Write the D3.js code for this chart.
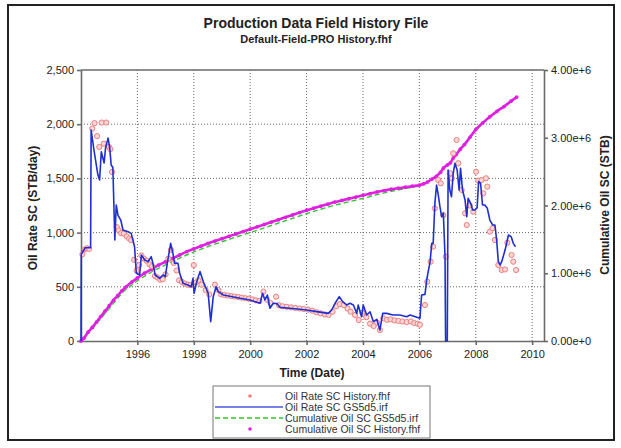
<!DOCTYPE html>
<html><head><meta charset="utf-8">
<script src="https://cdn.jsdelivr.net/npm/d3@7"></script>
<style>
body{margin:0;background:#fff;}
svg{display:block;font-family:"Liberation Sans",Arial,sans-serif;}
</style></head>
<body><svg id="c" width="621" height="448"></svg>
<script>
// ---- data ----
const xTickYears = [1996, 1998, 2000, 2002, 2004, 2006, 2008, 2010];
const rateTicks = [0, 500, 1000, 1500, 2000, 2500];
const cumTicks = [0, 1e6, 2e6, 3e6, 4e6];
const legendLabels = ["Oil Rate SC History.fhf", "Oil Rate SC GS5d5.irf", "Cumulative Oil SC GS5d5.irf", "Cumulative Oil SC History.fhf"];

// simulated oil rate (GS5d5.irf): [decimal year, STB/day]
const simRate = [[1994.00,0],[1994.01,800],[1994.15,860],[1994.34,860],[1994.36,1946],[1994.46,1762],[1994.60,1531],[1994.66,1485],[1994.72,1746],[1994.82,1642],[1994.87,1780],[1994.96,1872],[1995.02,1780],[1995.07,1623],[1995.13,1600],[1995.20,932],[1995.25,1255],[1995.31,1162],[1995.41,1116],[1995.49,1024],[1995.67,1008],[1995.78,993],[1995.90,870],[1995.96,627],[1996.08,609],[1996.14,793],[1996.26,747],[1996.38,732],[1996.49,778],[1996.55,717],[1996.63,609],[1996.79,578],[1996.91,609],[1996.99,593],[1997.06,717],[1997.18,901],[1997.26,809],[1997.32,717],[1997.44,717],[1997.50,625],[1997.62,532],[1997.79,517],[1997.91,501],[1997.97,578],[1998.01,440],[1998.09,532],[1998.22,640],[1998.34,547],[1998.51,440],[1998.60,178],[1998.69,409],[1998.79,501],[1998.87,455],[1999.05,424],[1999.64,394],[1999.99,378],[2000.35,348],[2000.44,440],[2000.52,380],[2000.61,424],[2000.70,302],[2000.82,348],[2000.95,345],[2001.06,310],[2001.41,302],[2002.00,286],[2002.36,271],[2002.77,255],[2002.89,286],[2003.01,348],[2003.16,409],[2003.28,363],[2003.42,332],[2003.54,348],[2003.66,332],[2003.78,255],[2003.83,332],[2003.95,224],[2004.01,332],[2004.13,240],[2004.25,270],[2004.37,178],[2004.49,200],[2004.60,101],[2004.70,255],[2004.84,255],[2005.07,240],[2005.31,240],[2005.55,224],[2005.67,240],[2006.02,209],[2006.08,424],[2006.20,430],[2006.26,563],[2006.38,732],[2006.44,901],[2006.49,901],[2006.55,1270],[2006.61,1439],[2006.67,1347],[2006.73,1239],[2006.79,1147],[2006.85,1180],[2006.91,778],[2006.93,0],[2006.99,0],[2007.02,1577],[2007.08,1393],[2007.14,1331],[2007.20,1547],[2007.26,1639],[2007.34,1577],[2007.41,1393],[2007.46,1593],[2007.53,1393],[2007.62,1301],[2007.68,1147],[2007.73,1316],[2007.82,1270],[2007.89,1208],[2007.97,1208],[2008.05,1230],[2008.10,1470],[2008.17,1455],[2008.24,1255],[2008.32,1255],[2008.41,1224],[2008.50,1116],[2008.60,1070],[2008.68,1070],[2008.74,932],[2008.80,732],[2008.86,701],[2008.92,732],[2009.04,839],[2009.16,978],[2009.26,960],[2009.33,901],[2009.41,870]];

// historical oil rate (History.fhf)
const histRate = [[1994.05,800],[1994.13,845],[1994.21,855],[1994.29,850],[1994.40,1960],[1994.48,2010],[1994.57,1890],[1994.65,1790],[1994.73,2015],[1994.81,1820],[1994.90,2015],[1994.99,1790],[1995.04,1770],[1995.10,1560],[1995.27,1050],[1995.34,1020],[1995.42,995],[1995.52,990],[1995.62,965],[1995.71,945],[1995.78,930],[1995.88,750],[1995.97,650],[1996.06,700],[1996.14,790],[1996.23,760],[1996.33,740],[1996.43,705],[1996.52,690],[1996.62,600],[1996.72,585],[1996.81,565],[1996.90,570],[1997.00,615],[1997.10,760],[1997.19,840],[1997.29,720],[1997.39,650],[1997.48,560],[1997.58,545],[1997.68,530],[1997.78,520],[1997.88,515],[1998.00,700],[1998.08,540],[1998.17,560],[1998.27,520],[1998.42,470],[1998.55,430],[1998.75,520],[1998.87,470],[1998.97,430],[1999.08,425],[1999.20,420],[1999.33,415],[1999.45,410],[1999.58,405],[1999.70,400],[1999.83,395],[1999.95,390],[2000.08,385],[2000.20,375],[2000.33,370],[2000.47,455],[2000.60,380],[2000.72,350],[2000.92,409],[2001.02,330],[2001.15,320],[2001.30,315],[2001.45,310],[2001.60,305],[2001.75,300],[2001.90,295],[2002.05,290],[2002.20,280],[2002.35,265],[2002.50,255],[2002.65,245],[2002.78,240],[2002.92,270],[2003.05,320],[2003.18,340],[2003.32,332],[2003.45,300],[2003.56,271],[2003.72,240],[2003.85,194],[2003.98,260],[2004.12,220],[2004.25,160],[2004.38,138],[2004.50,170],[2004.60,101],[2004.72,210],[2004.85,195],[2004.98,200],[2005.12,190],[2005.26,185],[2005.40,180],[2005.55,175],[2005.70,180],[2005.82,165],[2005.94,160],[2006.02,150],[2006.20,332],[2006.28,547],[2006.40,732],[2006.49,870],[2006.55,1224],[2006.67,1485],[2006.76,1455],[2006.85,1162],[2006.94,778],[2007.09,1547],[2007.15,1500],[2007.20,1732],[2007.32,1854],[2007.38,1640],[2007.50,1393],[2007.62,1178],[2007.68,1070],[2007.79,1250],[2007.91,1193],[2008.01,1562],[2008.09,1480],[2008.21,1485],[2008.27,1362],[2008.36,1501],[2008.41,1424],[2008.50,1009],[2008.60,1040],[2008.68,932],[2008.80,701],[2008.92,655],[2009.04,660],[2009.12,907],[2009.27,793],[2009.33,732],[2009.43,655]];

// simulated cumulative (GS5d5.irf)
const simCum = [[1994.0,0],[1994.5,230e3],[1995.0,480e3],[1995.5,730e3],[1996.0,890e3],[1996.5,1020e3],[1997.0,1125e3],[1997.5,1225e3],[1998.0,1315e3],[1998.5,1395e3],[1999.0,1465e3],[1999.5,1535e3],[2000.0,1600e3],[2000.5,1670e3],[2001.0,1740e3],[2001.5,1810e3],[2002.0,1880e3],[2002.5,1945e3],[2003.0,2005e3],[2003.5,2055e3],[2004.0,2105e3],[2004.5,2160e3],[2005.0,2210e3],[2005.5,2250e3],[2006.0,2290e3],[2006.3,2345e3],[2006.6,2425e3],[2006.85,2545e3],[2007.1,2625e3],[2007.3,2745e3],[2007.6,2895e3],[2008.0,3115e3],[2008.5,3305e3],[2009.0,3455e3],[2009.45,3595e3]];

// historical cumulative (History.fhf)
const histCum = [[1994.0,0],[1994.1,40e3],[1994.25,130e3],[1994.4,200e3],[1994.55,280e3],[1994.7,360e3],[1994.85,440e3],[1995.0,520e3],[1995.15,600e3],[1995.3,670e3],[1995.45,740e3],[1995.6,800e3],[1995.8,870e3],[1996.0,930e3],[1996.25,1000e3],[1996.5,1060e3],[1996.75,1120e3],[1997.0,1170e3],[1997.25,1220e3],[1997.5,1270e3],[1997.75,1320e3],[1998.0,1360e3],[1998.25,1400e3],[1998.5,1440e3],[1998.75,1475e3],[1999.0,1510e3],[1999.25,1545e3],[1999.5,1580e3],[1999.75,1615e3],[2000.0,1650e3],[2000.25,1685e3],[2000.5,1720e3],[2000.75,1755e3],[2001.0,1790e3],[2001.25,1825e3],[2001.5,1860e3],[2001.75,1895e3],[2002.0,1930e3],[2002.25,1960e3],[2002.5,1990e3],[2002.75,2020e3],[2003.0,2050e3],[2003.25,2075e3],[2003.5,2100e3],[2003.75,2125e3],[2004.0,2150e3],[2004.25,2175e3],[2004.5,2200e3],[2004.75,2220e3],[2005.0,2240e3],[2005.25,2255e3],[2005.5,2270e3],[2005.75,2285e3],[2006.0,2300e3],[2006.15,2320e3],[2006.3,2350e3],[2006.45,2390e3],[2006.6,2430e3],[2006.75,2490e3],[2006.85,2550e3],[2007.0,2600e3],[2007.1,2630e3],[2007.2,2700e3],[2007.3,2750e3],[2007.45,2830e3],[2007.6,2900e3],[2007.8,3010e3],[2008.0,3120e3],[2008.25,3220e3],[2008.5,3310e3],[2008.75,3390e3],[2009.0,3460e3],[2009.25,3540e3],[2009.45,3600e3]];

// ---- chart ----
const svg = d3.select("#c");
const L = 81, R = 544, T = 70, B = 341;
const x = d3.scaleLinear().domain([1994.0, 2010.42]).range([L, R]);
const yL = d3.scaleLinear().domain([0, 2500]).range([B, T]);
const yR = d3.scaleLinear().domain([0, 4e6]).range([B, T]);

// outer frame
svg.append("rect").attr("x", 8).attr("y", 5).attr("width", 606).attr("height", 435)
  .attr("fill", "none").attr("stroke", "#222").attr("stroke-width", 2);

// titles
svg.append("text").attr("x", 316).attr("y", 28).attr("text-anchor", "middle")
  .attr("font-size", 14).attr("font-weight", "bold").attr("fill", "#222").text("Production Data Field History File");
svg.append("text").attr("x", 316).attr("y", 43).attr("text-anchor", "middle")
  .attr("font-size", 11).attr("font-weight", "bold").attr("fill", "#222").text("Default-Field-PRO History.fhf");

// grid
const grid = svg.append("g").attr("stroke", "#666").attr("stroke-width", 1).attr("stroke-dasharray", "1,2");
grid.selectAll("line.v").data(xTickYears).join("line")
  .attr("x1", d => x(d)).attr("x2", d => x(d)).attr("y1", T).attr("y2", B);
grid.selectAll("line.h").data(rateTicks.filter(d => d > 0 && d < 2500)).join("line").attr("class", "h")
  .attr("x1", L).attr("x2", R).attr("y1", d => yL(d)).attr("y2", d => yL(d));

// axes
const axisColor = "#6a6a6a";
const gx = svg.append("g").attr("transform", `translate(0,${B})`)
  .call(d3.axisBottom(x).tickValues(xTickYears).tickFormat(d3.format("d")).tickSize(4).tickSizeOuter(0));
const gl = svg.append("g").attr("transform", `translate(${L},0)`)
  .call(d3.axisLeft(yL).tickValues(rateTicks).tickFormat(d3.format(",")).tickSize(4).tickSizeOuter(0));
const gr = svg.append("g").attr("transform", `translate(${R},0)`)
  .call(d3.axisRight(yR).tickValues(cumTicks).tickFormat(d3.format(".2e")).tickSize(4).tickSizeOuter(0));
[gx, gl, gr].forEach(g => {
  g.selectAll("path,line").attr("stroke", axisColor).attr("stroke-width", 1.6);
  g.selectAll("text").attr("font-size", 11).attr("fill", "#222").attr("font-family", "Liberation Sans, Arial, sans-serif");
});
gx.selectAll("text").attr("dy", "0.9em");
// top border of plot
svg.append("line").attr("x1", L).attr("x2", R).attr("y1", T).attr("y2", T)
  .attr("stroke", axisColor).attr("stroke-width", 1.6);

// axis titles
svg.append("text").attr("x", 312).attr("y", 377).attr("text-anchor", "middle")
  .attr("font-size", 12).attr("font-weight", "bold").attr("fill", "#222").text("Time (Date)");
svg.append("text").attr("transform", "translate(37,208) rotate(-90)").attr("text-anchor", "middle")
  .attr("font-size", 12).attr("font-weight", "bold").attr("fill", "#222").text("Oil Rate SC (STB/day)");
svg.append("text").attr("transform", "translate(609,205) rotate(-90)").attr("text-anchor", "middle")
  .attr("font-size", 12).attr("font-weight", "bold").attr("fill", "#222").text("Cumulative Oil SC (STB)");

const plot = svg.append("g");
const magenta = "#e020e0", green = "#33c433", blue = "#1f2fd0", red = "#ee7f7f";

// green dashed sim cumulative
plot.append("path").datum(simCum)
  .attr("d", d3.line().x(d => x(d[0])).y(d => yR(d[1])))
  .attr("fill", "none").attr("stroke", green).attr("stroke-width", 1.4).attr("stroke-dasharray", "5,3");

// magenta history cumulative (thick band of dots)
plot.append("path").datum(histCum)
  .attr("d", d3.line().curve(d3.curveMonotoneX).x(d => x(d[0])).y(d => yR(d[1])))
  .attr("fill", "none").attr("stroke", magenta).attr("stroke-width", 2.6);
plot.selectAll("circle.hc").data(histCum).join("circle").attr("class", "hc")
  .attr("cx", d => x(d[0])).attr("cy", d => yR(d[1])).attr("r", 1.9).attr("fill", magenta);

// red history rate dots
plot.selectAll("circle.hr").data(histRate).join("circle").attr("class", "hr")
  .attr("cx", d => x(d[0])).attr("cy", d => yL(d[1])).attr("r", 2.6)
  .attr("fill", "#fbd6d6").attr("stroke", red).attr("stroke-width", 1);

// blue sim rate line
plot.append("path").datum(simRate)
  .attr("d", d3.line().x(d => x(d[0])).y(d => yL(d[1])))
  .attr("fill", "none").attr("stroke", blue).attr("stroke-width", 1.6).attr("stroke-linejoin", "round");

// legend
const lg = svg.append("g");
lg.append("rect").attr("x", 213).attr("y", 386).attr("width", 217).attr("height", 52)
  .attr("fill", "#fff").attr("stroke", "#777").attr("stroke-width", 1);
const rows = [396, 407, 418, 429];
lg.selectAll("text").data(legendLabels).join("text")
  .attr("x", 285).attr("y", (d, i) => rows[i]).attr("dy", "0.35em")
  .attr("font-size", 10.5).attr("fill", "#333").text(d => d);
lg.append("circle").attr("cx", 250).attr("cy", rows[0]).attr("r", 1.8).attr("fill", red);
lg.append("line").attr("x1", 215).attr("x2", 283).attr("y1", rows[1]).attr("y2", rows[1])
  .attr("stroke", blue).attr("stroke-width", 1.4).attr("opacity", 0.8);
lg.append("line").attr("x1", 215).attr("x2", 283).attr("y1", rows[2]).attr("y2", rows[2])
  .attr("stroke", green).attr("stroke-width", 1.4).attr("stroke-dasharray", "5,3");
lg.append("circle").attr("cx", 250).attr("cy", rows[3]).attr("r", 1.8).attr("fill", magenta);
</script></body></html>
